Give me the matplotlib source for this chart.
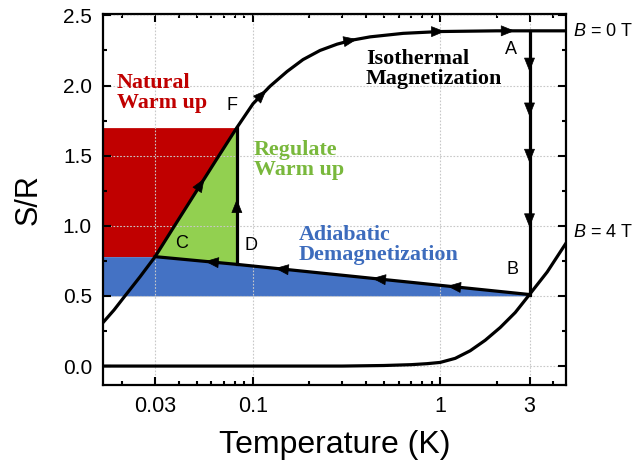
import numpy as np
import matplotlib
matplotlib.use("Agg")
import matplotlib.pyplot as plt
from matplotlib.ticker import FixedLocator, FixedFormatter, NullFormatter

plt.rcParams['font.family'] = ['Liberation Sans', 'DejaVu Sans']
plt.rcParams['mathtext.fontset'] = 'custom'
plt.rcParams['mathtext.it'] = 'Liberation Sans:italic'
plt.rcParams['mathtext.rm'] = 'Liberation Sans'

# ---------------- data ----------------
# Entropy curve at B = 0 T
T_b0 = [0.0158, 0.0181, 0.0207, 0.0249, 0.03, 0.04, 0.049, 0.0627, 0.082,
        0.1, 0.1233, 0.152, 0.185, 0.228, 0.2813, 0.3426, 0.4224, 0.634,
        1.0, 2.0, 3.0, 4.7]
S_b0 = [0.31, 0.40, 0.50, 0.636, 0.78, 1.045, 1.231, 1.457, 1.70,
        1.87, 1.995, 2.10, 2.185, 2.25, 2.295, 2.325, 2.347, 2.372,
        2.385, 2.39, 2.39, 2.39]
# Entropy curve at B = 4 T
T_b4 = [0.0158, 0.3, 0.5, 0.7, 0.85, 1.0, 1.203, 1.446, 1.74, 2.093,
        2.518, 3.0, 3.73, 4.72]
S_b4 = [0.0, 0.0, 0.004, 0.010, 0.017, 0.026, 0.055, 0.109, 0.184, 0.275,
        0.382, 0.51, 0.671, 0.88]
# Cycle points
T_A, S_A = 3.0, 2.39
T_B, S_B = 3.0, 0.51
T_C, S_C = 0.03, 0.78
T_D, S_D = 0.082, 0.725
T_F, S_F = 0.082, 1.70
# Adiabatic demagnetization path B -> D -> C
T_ad = [T_B, T_D, T_C]
S_ad = [S_B, S_D, S_C]
# arrow positions
arr_b0_T = [0.055, 0.118, 0.36, 1.06, 2.5]
arr_AB_S = [2.10, 1.78, 1.45, 0.99]
arr_ad_T = [1.09, 0.433, 0.131, 0.0554]
arr_DF_S = [1.19]

xlim = (0.0158, 4.7)
ylim = (-0.135, 2.51)
xticks = [0.03, 0.1, 1, 3]
xticklabels = ['0.03', '0.1', '1', '3']
xminor = [0.02, 0.04, 0.05, 0.06, 0.07, 0.08, 0.09,
          0.2, 0.3, 0.4, 0.5, 0.6, 0.7, 0.8, 0.9, 2, 4]
yticks = [0.0, 0.5, 1.0, 1.5, 2.0, 2.5]
yminor = [0.25, 0.75, 1.25, 1.75, 2.25]

RED = '#C00000'
GREEN = '#92D050'
BLUE = '#4472C4'

fig = plt.figure(figsize=(6.35, 4.66), dpi=100)
ax = fig.add_axes([103/635, 1-385/466, 463/635, 371/466])
ax.set_xscale('log')
ax.set_xlim(*xlim)
ax.set_ylim(*ylim)

T_b0a = np.array(T_b0); S_b0a = np.array(S_b0)
seg = (S_b0a >= S_C - 1e-9) & (S_b0a <= S_F + 1e-9)
seg_T = T_b0a[seg]; seg_S = S_b0a[seg]

# red: natural warm up
ax.fill_betweenx(seg_S, xlim[0], seg_T, color=RED, lw=0, zorder=1)
# green: regulated warm up
ax.fill(list(seg_T) + [T_D], list(seg_S) + [S_D], color=GREEN, lw=0, zorder=1)
# blue: adiabatic demagnetization
fx = [xlim[0]] + T_ad[::-1]
fy = [S_C] + S_ad[::-1]
ax.fill_between(fx, 0.5, fy, color=BLUE, lw=0, zorder=1)

LW = 2.3
ax.plot(T_b0, S_b0, color='k', lw=LW, zorder=3, solid_joinstyle='round')
ax.plot(T_b4, S_b4, color='k', lw=LW, zorder=3, solid_joinstyle='round')
ax.plot([T_A, T_B], [S_A, S_B], color='k', lw=LW, zorder=3)
ax.plot(T_ad, S_ad, color='k', lw=LW, zorder=3)
ax.plot([T_D, T_F], [S_D, S_F], color='k', lw=LW, zorder=3)

aprops = dict(arrowstyle='-|>,head_length=0.5,head_width=0.2', color='k',
              lw=0.5, shrinkA=0, shrinkB=0, mutation_scale=18)

def arrow(p_from, p_to):
    ax.annotate('', xy=p_to, xytext=p_from, arrowprops=aprops, zorder=4)

lgT = np.log10(T_b0)
for t in arr_b0_T:
    lt = np.log10(t)
    s1 = np.interp(lt, lgT, S_b0)
    s0 = np.interp(lt - 0.01, lgT, S_b0)
    arrow((10**(lt - 0.01), s0), (t, s1))
for s in arr_AB_S:
    arrow((T_A, s + 0.02), (T_A, s))
lgad = np.log10(T_ad[::-1])
Sad_r = S_ad[::-1]
for t in arr_ad_T:
    lt = np.log10(t)
    s1 = np.interp(lt, lgad, Sad_r)
    s0 = np.interp(lt + 0.01, lgad, Sad_r)
    arrow((10**(lt + 0.01), s0), (t, s1))
for s in arr_DF_S:
    arrow((T_D, s - 0.02), (T_D, s))

# grid
ax.set_axisbelow(False)
ax.grid(True, which='major', color='#c8c8c8', linestyle=(0, (1.5, 1.5)), lw=0.8)

# ticks
ax.xaxis.set_major_locator(FixedLocator(xticks))
ax.xaxis.set_major_formatter(FixedFormatter(xticklabels))
ax.xaxis.set_minor_locator(FixedLocator(xminor))
ax.xaxis.set_minor_formatter(NullFormatter())
ax.set_yticks(yticks)
ax.set_yticklabels(['%.1f' % v for v in yticks])
ax.yaxis.set_minor_locator(FixedLocator(yminor))
ax.tick_params(which='both', direction='in', top=True, right=True, width=1.5,
               labelsize=15, pad=8)
ax.tick_params(axis='x', labelsize=15.5)
ax.tick_params(which='major', length=5.5)
ax.tick_params(which='minor', length=3)
for sp in ax.spines.values():
    sp.set_linewidth(1.6)

ax.set_xlabel('Temperature (K)', fontsize=23)
ax.set_ylabel('S/R', fontsize=22)
ax.xaxis.set_label_coords(0.5, -0.12, transform=ax.transAxes)
ax.yaxis.set_label_coords(-0.128, 0.5, transform=ax.transAxes)

def axpos(px, py):
    return ((px - 103) / 463, (385 - py) / 371)

serif = dict(family=['Liberation Serif', 'DejaVu Serif'], fontweight='bold',
             fontsize=15.8, linespacing=1.05, transform=ax.transAxes,
             ha='left', va='center', zorder=6)
ax.text(*axpos(117, 93), 'Natural\nWarm up', color=RED, **serif)
ax.text(*axpos(366, 69), 'Isothermal\nMagnetization', color='k', **serif)
ax.text(*axpos(254, 160), 'Regulate\nWarm up', color='#79B83C', **serif)
ax.text(*axpos(299, 245), 'Adiabatic\nDemagnetization', color='#3D6CBD', **serif)

lab = dict(fontsize=13, transform=ax.transAxes, ha='center', va='center', zorder=6)
ax.text(*axpos(511, 50), 'A', **lab)
ax.text(*axpos(512, 270), 'B', **lab)
ax.text(*axpos(182, 243), 'C', **lab)
ax.text(*axpos(251, 246), 'D', **lab)
ax.text(*axpos(232, 106), 'F', **lab)

fx0 = 573 / 635
fig.text(fx0, 1 - 32 / 466, r'$B$ = 0 T', fontsize=13, ha='left', va='center')
fig.text(fx0, 1 - 232 / 466, r'$B$ = 4 T', fontsize=13, ha='left', va='center')

fig.savefig('out.png', dpi=100)
